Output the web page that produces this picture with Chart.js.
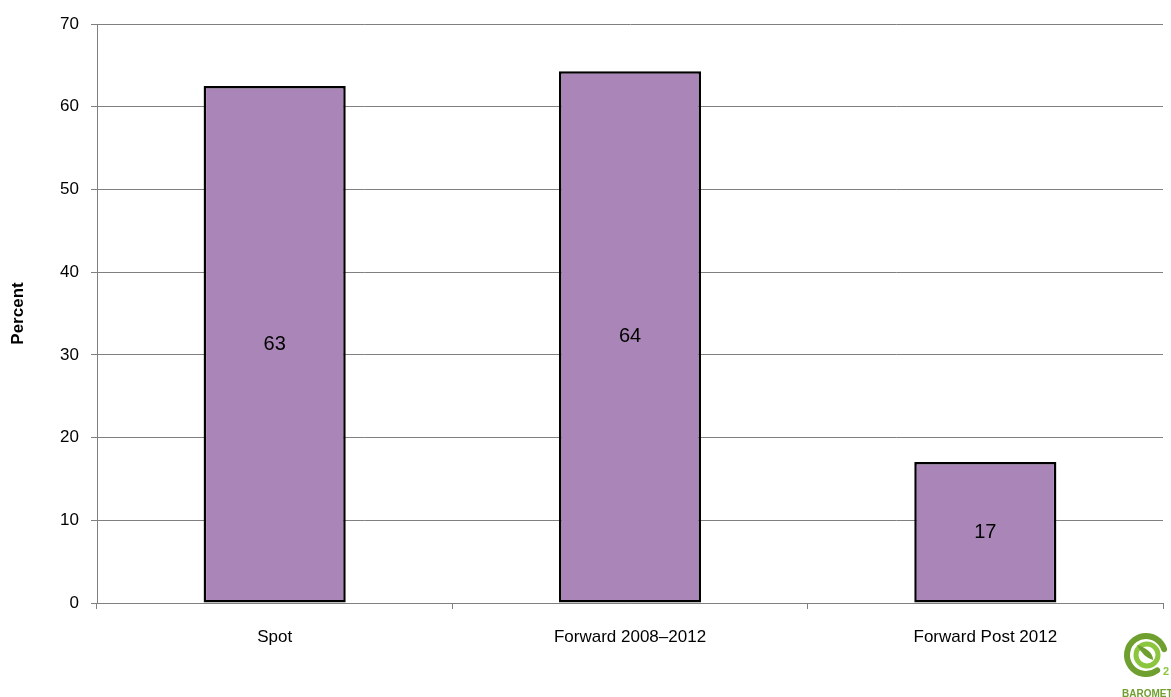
<!DOCTYPE html>
<html>
<head>
<meta charset="utf-8">
<script src="https://cdn.jsdelivr.net/npm/chart.js@4/dist/chart.umd.min.js"></script>
<style>
  html, body { margin: 0; padding: 0; background: #fff; }
  #wrap { width: 1171px; height: 697px; position: relative; }
</style>
</head>
<body>
<div id="wrap"><canvas id="chart"></canvas></div>
<script>
// data
const categories = ['Spot', 'Forward 2008\u20132012', 'Forward Post 2012'];
const percentValues = [62.5, 64.3, 17.05];
const yTicks = [0, 10, 20, 30, 40, 50, 60, 70];

const barColor = '#aa86b8';
const gridColor = '#808080';
const font = "'Liberation Sans', Arial, sans-serif";

// value labels centred inside each bar
const barLabels = {
    id: 'barLabels',
    afterDatasetsDraw(chart) {
        const ctx = chart.ctx;
        const meta = chart.getDatasetMeta(0);
        ctx.save();
        ctx.font = '20px ' + font;
        ctx.fillStyle = '#000';
        ctx.textAlign = 'center';
        ctx.textBaseline = 'middle';
        meta.data.forEach(function(bar, i) {
            const mid = (bar.y + bar.base) / 2;
            ctx.fillText(String(Math.round(percentValues[i])), bar.x, mid);
        });
        ctx.restore();
    }
};

// small green logo in the bottom right corner
const logo = {
    id: 'logo',
    afterDraw(chart) {
        const ctx = chart.ctx;
        const cx = 1146, cy = 655;
        ctx.save();
        ctx.lineCap = 'round';
        // outer "C"
        ctx.strokeStyle = '#6f9f2f';
        ctx.lineWidth = 6;
        ctx.beginPath();
        ctx.arc(cx, cy, 19, 0.3 * Math.PI, 1.9 * Math.PI);
        ctx.stroke();
        // inner ring
        ctx.strokeStyle = '#8cc63f';
        ctx.lineWidth = 5;
        ctx.beginPath();
        ctx.arc(cx + 1, cy, 11, 0, 2 * Math.PI);
        ctx.stroke();
        // leaf
        ctx.fillStyle = '#6f9f2f';
        ctx.beginPath();
        ctx.moveTo(cx - 9, cy - 10);
        ctx.quadraticCurveTo(cx + 7, cy - 5, cx + 7, cy + 5);
        ctx.quadraticCurveTo(cx - 3, cy + 2, cx - 9, cy - 10);
        ctx.fill();
        // small "2"
        ctx.fillStyle = '#8cc63f';
        ctx.font = 'bold 11px ' + font;
        ctx.textAlign = 'left';
        ctx.fillText('2', cx + 17, cy + 20);
        // caption, cut off by the edge
        ctx.fillStyle = '#6f9f2f';
        ctx.font = 'bold 10px ' + font;
        ctx.fillText('BAROMETER', 1122, 697);
        ctx.restore();
    }
};

new Chart(document.getElementById('chart'), {
    type: 'bar',
    data: {
        labels: categories,
        datasets: [{
            label: 'Percent',
            data: percentValues,
            backgroundColor: barColor,
            borderColor: '#000',
            borderWidth: 2.5,
            borderSkipped: false,
            barPercentage: 0.4,
            categoryPercentage: 1.0
        }]
    },
    options: {
        responsive: true,
        maintainAspectRatio: false,
        animation: false,
        layout: { padding: { top: 24, right: 8, left: 8, bottom: 0 } },
        plugins: {
            legend: { display: false },
            tooltip: { enabled: false }
        },
        scales: {
            x: {
                offset: true,
                grid: {
                    offset: true,
                    drawOnChartArea: false,
                    drawTicks: true,
                    tickLength: 6,
                    color: gridColor,
                    lineWidth: 1
                },
                border: { color: gridColor, width: 1 },
                ticks: {
                    color: '#000',
                    font: { family: font, size: 17 },
                    padding: 18
                },
                afterFit: function(axis) { axis.height = 94; }
            },
            y: {
                min: 0,
                max: 70,
                afterBuildTicks: function(axis) {
                    axis.ticks = yTicks.map(function(v) { return { value: v }; });
                },
                grid: {
                    color: gridColor,
                    lineWidth: 1,
                    tickLength: 6
                },
                border: { color: gridColor, width: 1 },
                ticks: {
                    color: '#000',
                    font: { family: font, size: 17 },
                    padding: 12
                },
                title: {
                    display: true,
                    text: 'Percent',
                    color: '#000',
                    font: { family: font, size: 17, weight: 'bold' },
                    padding: 0
                },
                afterFit: function(axis) { axis.width = 89; }
            }
        }
    },
    plugins: [barLabels, logo]
});
</script>
</body>
</html>
